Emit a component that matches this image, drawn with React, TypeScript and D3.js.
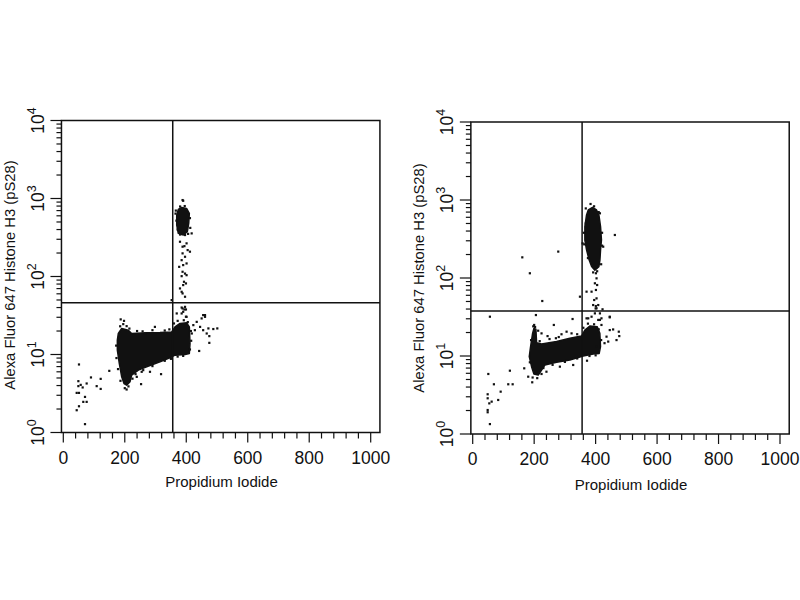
import React, { useRef, useEffect } from "react";
import * as d3 from "d3";

type Pt = [number, number];

// dense populations drawn as filled outlines (x: PI channel, y: AF647 intensity)
const leftLowerBlob: Pt[] = [
  [179, 18.6], [190, 21.6], [211.6, 20.5], [222.4, 18.6], [271.2, 19.0], [314.6, 19.1],
  [352.6, 19.5], [363.4, 22.6], [379.7, 25.0], [401.4, 25.5], [410, 22.6], [412.2, 13.8],
  [410, 10.3], [396, 10.0], [363.4, 9.8], [352.6, 9.3], [314.6, 8.05], [271.2, 6.95],
  [244.1, 6.3], [222.4, 5.43], [217, 4.47], [206.2, 4.05], [197.5, 4.25], [190, 5.17],
  [182.3, 7.66], [175.8, 11.4], [175.8, 15.3],
];
const leftUpperBlob: Pt[] = [
  [374, 724], [385, 769], [401, 746], [410, 644], [408, 479], [403.5, 375],
  [390.5, 340], [374, 357], [369, 456], [369, 613],
];
const leftDots: Pt[] = [
  [51, 7.45], [49, 4.55], [49, 3.93], [43.6, 3.22], [51, 3.22], [63, 3.78], [76, 4.25],
  [70.6, 2.86], [65, 2.47], [76, 2.47], [51, 2.17], [43.6, 1.93], [70.6, 1.28], [90, 5.08],
  [108.6, 3.93], [121.6, 4.87], [121.6, 3.62], [149.6, 6.17], [56.6, 4.08],
  [186.7, 28.2], [197.5, 27], [206, 23.1], [298, 22.6], [266, 18.6], [255, 6.0], [253, 4.17],
  [206, 3.56], [318, 5.6], [282, 6.0], [239, 5.17],
  [369, 33.6], [385, 40], [399, 37.8], [461, 32], [450, 29], [434, 26.2], [423, 23.8],
  [445, 22.6], [428, 20.5], [455, 20.5], [472, 21.6], [488, 21.2], [501, 21.6], [475, 17.2],
  [475, 14.1], [442, 11.1], [412, 11.6], [466.5, 18.6], [418, 18.6], [396, 40.8], [390, 35.3],
  [401, 30.4], [455, 32], [461, 30.4],
  [388, 955], [390, 935], [396, 340], [417.6, 357], [379.6, 279], [401, 266], [388, 241],
  [394, 245], [388, 198], [396, 179], [404.5, 218], [412, 208], [385, 162], [390, 140],
  [401, 147], [377, 133], [388, 115], [396, 109], [401, 104], [385, 101], [392.6, 85.6],
  [390, 77.6], [399, 81.5], [379.6, 70.3], [385, 63.7], [388, 60.7], [396, 55], [352.5, 49.8],
  [388, 38.9], [394, 37.8], [385, 33.6], [399, 30.5],
  // ragged edges of the dense populations
  [185, 23], [195, 24.5], [215, 21.5], [240, 20], [258, 19.8], [290, 20.5], [330, 20.3],
  [345, 21], [360, 25], [372, 27], [392, 27.5], [405, 26], [415, 20], [416, 15],
  [178, 6.5], [186, 4.6], [200, 3.7], [212, 3.9], [225, 4.9], [235, 5.6], [260, 6.3],
  [290, 7.1], [330, 8.3], [350, 8.8], [372, 9.4], [390, 9.6], [173, 9], [172, 13],
  [366, 700], [368, 520], [372, 400], [412, 560], [413, 420], [406, 352], [380, 345],
  [395, 800], [380, 790], [365, 640],
];

const rightLowerBlob: Pt[] = [
  [188.4, 13.2], [194.9, 19.5], [199.2, 22.6], [205.7, 22.0], [207.9, 14.8], [224.1, 14.3],
  [272.9, 15.3], [316.2, 16.9], [354.1, 18.0], [365, 21.5], [381.2, 24.2], [405, 23.8],
  [413.7, 19.5], [415.9, 13.2], [411.6, 10.8], [392.1, 10.6], [359.6, 10.0], [316.2, 8.9],
  [272.9, 8.3], [234.9, 7.67], [224.1, 6.62], [213.3, 5.7], [199.2, 5.87], [191.6, 7.3],
  [184.1, 9.8],
];
const rightUpperBlob: Pt[] = [
  [376, 745], [390, 805], [403, 745], [410.6, 643], [416, 455], [419, 307], [416, 229],
  [414, 170], [410.6, 140], [397.6, 126], [387, 140], [379, 170], [370.5, 229], [365, 307],
  [365, 455], [370.5, 643],
];
const rightDots: Pt[] = [
  [56, 31.9], [50.8, 5.88], [69, 4.34], [48.7, 3.23], [48.7, 2.87], [54, 2.47], [61.7, 2.6],
  [48.7, 2.03], [48.7, 1.9], [56, 1.34], [83, 2.73], [91, 3.49], [115.7, 4.34], [130, 4.34],
  [121, 6.48], [167.7, 6.95], [180.7, 5.43], [193.7, 4.6],
  [161.4, 184], [186, 115], [278.4, 218], [226.4, 50.7],
  [205.7, 33.5], [200, 25], [213, 21.1], [224, 19.5], [243.6, 18.0], [264, 25], [289, 19],
  [305.5, 20.5], [321.7, 19.5], [325, 29.8], [270.7, 16.9], [224, 5.88], [240, 6.29],
  [283.7, 7.3], [327, 7.67], [372, 8.7],
  [400.7, 43.7], [400, 40.7], [422.5, 39.7], [446, 31.9], [413.7, 29], [446, 21.5], [457, 21.9],
  [475.4, 20.5], [468, 16], [435.5, 17.7], [441, 15.3], [477, 18], [419, 25], [370.5, 30.4],
  [402, 13.2], [429, 14.6],
  [383.5, 889], [357.5, 278], [368, 501], [462.6, 356], [424.7, 252], [414, 675], [401, 115],
  [403, 99], [397.6, 85.5], [405, 81.3], [370.5, 66.8], [386.8, 66.8], [401, 70.2],
  [403, 54.8], [395.4, 52.2], [392, 45], [408.5, 45], [403, 40.9], [397.6, 35.2], [414, 35.2],
  [386.8, 31.9], [408.5, 29], [376, 30.4], [419, 30.4], [446, 31.3], [349, 57.6],
  // ragged edges of the dense populations
  [190, 16], [197, 24], [203, 23.5], [218, 15.5], [250, 16.5], [280, 17.5], [340, 19],
  [360, 23], [375, 26], [395, 25.5], [410, 22], [418, 16], [186, 8.3], [195, 5.3],
  [210, 5.2], [230, 7], [260, 7.7], [300, 8.4], [340, 9.3], [380, 10], [400, 10.2],
  [368, 780], [395, 830], [410, 700], [421, 380], [421, 260], [362, 380], [363, 270],
  [375, 180], [418, 150], [392, 118], [405, 122],
];

// quadrant gates [PI, AF647]
const leftGate: Pt = [356, 46];
const rightGate: Pt = [356, 37.8];

const xTickLabels = [0, 200, 400, 600, 800, 1000];
const decades = [0, 1, 2, 3, 4];
const xTitle = "Propidium Iodide";
const yTitle = "Alexa Fluor 647 Histone H3 (pS28)";

const layouts = [
  { x0: 63.3, x1000: 370.7, yTop: 120.5, yBottom: 432.5, tickBaseX: 44, yTitleX: 15, yTitleY: 275, xTitleX: 221.5, xTitleY: 487 },
  { x0: 472.7, x1000: 780, yTop: 122, yBottom: 434, tickBaseX: 453, yTitleX: 424, yTitleY: 278, xTitleX: 631, xTitleY: 490 },
];

const panels = [
  { lower: leftLowerBlob, upper: leftUpperBlob, dots: leftDots, gate: leftGate },
  { lower: rightLowerBlob, upper: rightUpperBlob, dots: rightDots, gate: rightGate },
];

const INK = "#111";
const FONT = "'Liberation Sans', Arial, sans-serif";

const isDecade = (v: number) => Math.abs(Math.log10(v) - Math.round(Math.log10(v))) < 1e-9;

const App: React.FC = () => {
  const ref = useRef<SVGSVGElement | null>(null);

  useEffect(() => {
    if (!ref.current) return;
    const svg = d3.select(ref.current);
    svg.selectAll("*").remove();

    panels.forEach((p, i) => {
      const L = layouts[i];
      const x = d3.scaleLinear().domain([0, 1000]).range([L.x0, L.x1000]);
      const y = d3.scaleLog().domain([1, 10000]).range([L.yBottom, L.yTop]);
      const g = svg.append("g");

      const left = x(-6);
      const right = x(1030);

      // populations
      const line = d3
        .line<Pt>()
        .x((d) => x(d[0]))
        .y((d) => y(d[1]))
        .curve(d3.curveLinearClosed);
      [p.lower, p.upper].forEach((blob) => {
        g.append("path")
          .attr("d", line(blob))
          .attr("fill", INK)
          .attr("stroke", INK)
          .attr("stroke-width", 1.5)
          .attr("stroke-linejoin", "round");
      });
      g.selectAll(null)
        .data(p.dots)
        .join("rect")
        .attr("x", (d) => x(d[0]) - 1.1)
        .attr("y", (d) => y(d[1]) - 1.1)
        .attr("width", 2.2)
        .attr("height", 2.2)
        .attr("fill", INK);

      // frame + quadrant lines
      g.append("rect")
        .attr("x", left)
        .attr("y", y(10000))
        .attr("width", right - left)
        .attr("height", y(1) - y(10000))
        .attr("fill", "none")
        .attr("stroke", INK)
        .attr("stroke-width", 1.5);
      g.append("line")
        .attr("x1", x(p.gate[0]))
        .attr("x2", x(p.gate[0]))
        .attr("y1", y(1))
        .attr("y2", y(10000))
        .attr("stroke", INK)
        .attr("stroke-width", 1.5);
      g.append("line")
        .attr("x1", left)
        .attr("x2", right)
        .attr("y1", y(p.gate[1]))
        .attr("y2", y(p.gate[1]))
        .attr("stroke", INK)
        .attr("stroke-width", 1.5);

      // y log ticks
      g.selectAll(null)
        .data(y.ticks())
        .join("line")
        .attr("x1", (d) => left - (isDecade(d) ? 11 : 5))
        .attr("x2", left)
        .attr("y1", (d) => y(d))
        .attr("y2", (d) => y(d))
        .attr("stroke", INK)
        .attr("stroke-width", 1.2);
      decades.forEach((k) => {
        const t = g
          .append("text")
          .attr("transform", `translate(${L.tickBaseX},${y(Math.pow(10, k))}) rotate(-90)`)
          .attr("text-anchor", "middle")
          .attr("font-family", FONT)
          .attr("font-size", 17.5)
          .attr("fill", INK);
        t.append("tspan").text("10");
        t.append("tspan").attr("dy", -8).attr("font-size", 12.5).text(String(k));
      });

      // x ticks
      g.selectAll(null)
        .data(d3.range(0, 1001, 40))
        .join("line")
        .attr("x1", (d) => x(d))
        .attr("x2", (d) => x(d))
        .attr("y1", y(1))
        .attr("y2", (d) => y(1) + (d % 200 === 0 ? 10 : 6))
        .attr("stroke", INK)
        .attr("stroke-width", 1.2);
      g.selectAll(null)
        .data(xTickLabels)
        .join("text")
        .attr("x", (d) => x(d))
        .attr("y", y(1) + 31)
        .attr("text-anchor", "middle")
        .attr("font-family", FONT)
        .attr("font-size", 17.5)
        .attr("fill", INK)
        .text((d) => String(d));

      // titles
      g.append("text")
        .attr("x", L.xTitleX)
        .attr("y", L.xTitleY)
        .attr("text-anchor", "middle")
        .attr("font-family", FONT)
        .attr("font-size", 15)
        .attr("fill", INK)
        .text(xTitle);
      g.append("text")
        .attr("transform", `translate(${L.yTitleX},${L.yTitleY}) rotate(-90)`)
        .attr("text-anchor", "middle")
        .attr("font-family", FONT)
        .attr("font-size", 14.8)
        .attr("fill", INK)
        .text(yTitle);
    });
  }, []);

  return (
    <svg
      ref={ref}
      width={800}
      height={600}
      style={{ position: "absolute", left: 0, top: 0, background: "#fff" }}
    />
  );
};

export default App;
